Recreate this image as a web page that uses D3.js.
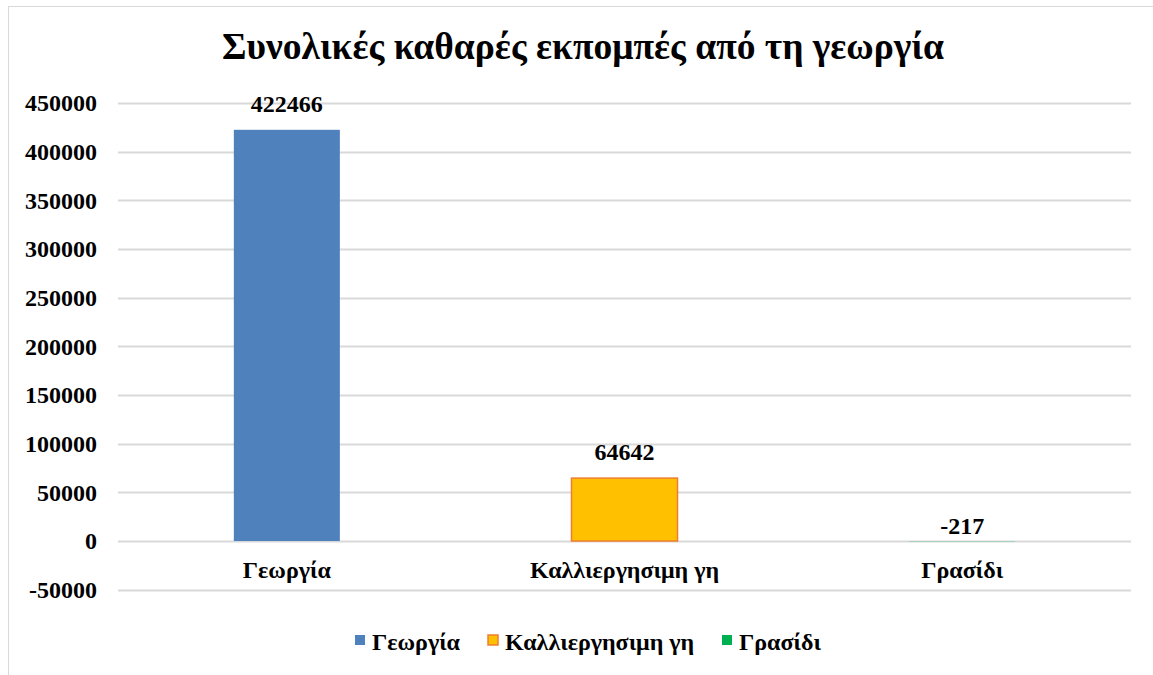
<!DOCTYPE html>
<html>
<head>
<meta charset="utf-8">
<script src="https://cdn.jsdelivr.net/npm/d3@7"></script>
<style>
  body { margin: 0; background: #fff; }
  text { font-family: "Liberation Serif", "Times New Roman", serif; font-weight: bold; fill: #000; }
</style>
</head>
<body>
<div id="chart"></div>
<script>
// chart data
var categories = ['Γεωργία', 'Καλλιεργησιμη γη', 'Γρασίδι'];
var values = [422466, 64642, -217];
var fills = ['#4F81BD', '#FFC000', '#00B050'];
var strokes = ['none', '#ED7D31', 'none'];
var tickValues = [-50000, 0, 50000, 100000, 150000, 200000, 250000, 300000, 350000, 400000, 450000];
var title = 'Συνολικές καθαρές εκπομπές από τη γεωργία';

var width = 1153, height = 675;
var margin = {left: 118, right: 22, top: 103, bottom: 85};

var svg = d3.select('#chart')
    .append('svg')
    .attr('width', width)
    .attr('height', height);

// outer chart frame (only left and top edges are in view)
svg.append('rect')
    .attr('x', 8.5).attr('y', 6.5)
    .attr('width', 1160).attr('height', 700)
    .attr('fill', 'none')
    .attr('stroke', '#d9d9d9');

var x = d3.scaleBand()
    .domain(categories)
    .range([margin.left, width - margin.right])
    .paddingInner(0.686)
    .paddingOuter(0.343);

var y = d3.scaleLinear()
    .domain([-50000, 450000])
    .range([589.7, 103]);

// gridlines
svg.append('g')
    .selectAll('line')
    .data(tickValues)
    .enter().append('line')
    .attr('x1', margin.left)
    .attr('x2', width - margin.right)
    .attr('y1', function (d) { return Math.round(y(d)) + 0.5; })
    .attr('y2', function (d) { return Math.round(y(d)) + 0.5; })
    .attr('stroke', '#d9d9d9')
    .attr('stroke-width', 2);

// y axis labels (plain hyphen for negatives, as in the original)
var yAxis = d3.axisLeft(y).tickValues(tickValues).tickSize(0).tickPadding(0)
    .tickFormat(function (d) { return String(d); });
var gy = svg.append('g')
    .attr('transform', 'translate(97,0)')
    .call(yAxis);
gy.select('.domain').remove();
gy.selectAll('text')
    .style('font-size', '24px')
    .attr('dy', '0.33em');

// bars
svg.append('g')
    .selectAll('rect')
    .data(values)
    .enter().append('rect')
    .attr('x', function (d, i) { return x(categories[i]); })
    .attr('width', x.bandwidth())
    .attr('y', function (d) { return y(Math.max(d, 0)); })
    .attr('height', function (d) { return Math.abs(y(d) - y(0)); })
    .attr('fill', function (d, i) { return fills[i]; })
    .attr('stroke', function (d, i) { return strokes[i]; })
    .attr('stroke-width', 1.5);

// value labels
svg.append('g')
    .selectAll('text')
    .data(values)
    .enter().append('text')
    .attr('x', function (d, i) { return x(categories[i]) + x.bandwidth() / 2; })
    .attr('y', function (d) { return d >= 0 ? y(d) - 18 : y(0) - 7; })
    .attr('text-anchor', 'middle')
    .style('font-size', '24px')
    .text(function (d) { return d; });

// category labels
var xAxis = d3.axisBottom(x).tickSize(0).tickPadding(0);
var gx = svg.append('g')
    .attr('transform', 'translate(0,578)')
    .call(xAxis);
gx.select('.domain').remove();
gx.selectAll('text')
    .style('font-size', '24px')
    .attr('dy', 0);

// title
svg.append('text')
    .attr('x', 583)
    .attr('y', 59)
    .attr('text-anchor', 'middle')
    .style('font-size', '37.5px')
    .text(title);

// legend
var legendX = [355, 488, 722];
var legend = svg.append('g')
    .selectAll('g')
    .data(categories)
    .enter().append('g')
    .attr('transform', function (d, i) { return 'translate(' + legendX[i] + ',635)'; });
legend.append('rect')
    .attr('width', 10).attr('height', 10)
    .attr('fill', function (d, i) { return fills[i]; })
    .attr('stroke', function (d, i) { return strokes[i]; })
    .attr('stroke-width', 1.5);
legend.append('text')
    .attr('x', 17)
    .attr('y', 15)
    .style('font-size', '24px')
    .text(function (d) { return d; });
</script>
</body>
</html>
